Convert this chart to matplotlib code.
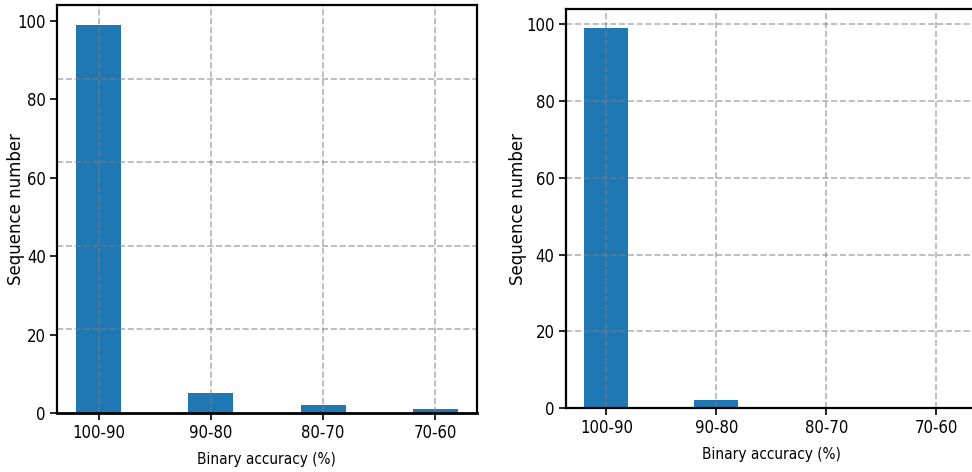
import matplotlib
matplotlib.use('Agg')
import matplotlib.pyplot as plt
from matplotlib import font_manager

# data
categories = ['100-90', '90-80', '80-70', '70-60']
counts_left = [99, 5, 2, 1]
counts_right = [99, 2, 0, 0]
yticks = [0, 20, 40, 60, 80, 100]
# left panel horizontal grid does not sit on its ticks
left_grid_levels = [21.3, 42.6, 63.9, 85.2]

names = {f.name for f in font_manager.fontManager.ttflist}
if 'Liberation Sans Narrow' in names:
    tick_font = dict(family='Liberation Sans Narrow', size=13.5)
    label_font = dict(family='Liberation Sans Narrow', size=12.5)
else:
    tick_font = dict(family='DejaVu Sans', stretch='condensed', size=12)
    label_font = dict(family='DejaVu Sans', stretch='condensed', size=11)

BAR = '#1f77b4'
GRID = dict(color='gray', linestyle='--', linewidth=1.2, alpha=0.6)


def style_axes(ax, spine_lw, ylab_x):
    ax.set_xticks(range(len(categories)))
    ax.set_xticklabels(categories, fontdict=tick_font)
    ax.set_yticks(yticks)
    ax.set_yticklabels([str(v) for v in yticks], fontdict=tick_font)
    ax.tick_params(length=5, width=1.2, pad=3)
    ax.set_xlabel('Binary accuracy (%)', fontdict=label_font, labelpad=7)
    ax.set_ylabel('Sequence number', family='DejaVu Sans', size=12)
    ax.yaxis.set_label_coords(ylab_x, 0.5)
    for s in ax.spines.values():
        s.set_linewidth(spine_lw)


fig = plt.figure(figsize=(9.72, 4.72), dpi=100)

ax1 = fig.add_axes([0.0586, 0.125, 0.432, 0.864])
ax1.bar(categories, counts_left, width=0.4, color=BAR)
style_axes(ax1, 1.6, -0.076)
ax1.spines['bottom'].set_linewidth(2.0)
ax1.xaxis.grid(True, **GRID)
for lvl in left_grid_levels:
    ax1.axhline(lvl, **GRID)

ax2 = fig.add_axes([0.582, 0.1356, 0.423, 0.845])
ax2.bar(categories, counts_right, width=0.4, color=BAR)
style_axes(ax2, 1.6, -0.095)
ax2.grid(True, **GRID)

fig.savefig('out.png', dpi=100)
